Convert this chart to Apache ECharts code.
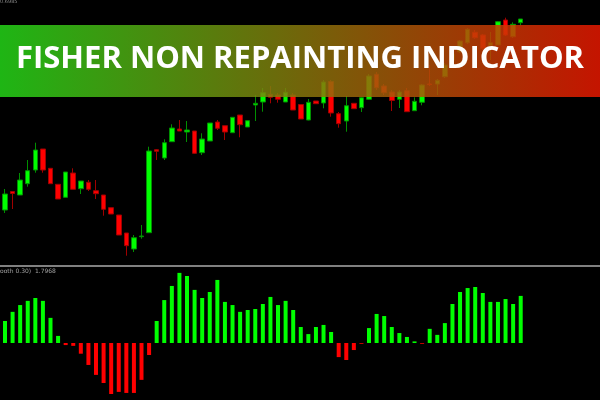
<!DOCTYPE html>
<html>
<head>
<meta charset="utf-8">
<script src="https://cdn.jsdelivr.net/npm/echarts@6/dist/echarts.min.js"></script>
<style>html,body{margin:0;padding:0;background:#000}#c{width:600px;height:400px}</style>
</head>
<body>
<div id="c"></div>
<script>
// price points (open, close, low, high)
var opens  = [55,73.5,70,81.3,95,116,96.7,80.7,67.7,92,76.3,82.7,74.3,70,57.3,50,32,16,28.3,32.3,115.3,107,123.3,136,133,134,112.3,124,143,139.3,132.3,150,138,160,163,170.7,170,163,170,160.5,145,164,162,183.5,151.3,144,161.7,157.3,165.7,190.7,179,173,165.7,174.3,154.3,162.7,181,181,188.3,205,213.3,222.3,232.7,230,219.3,220,245,228.3,242.3];
var closes = [71,71.5,85,94.3,115,95,81.3,66,93,75.7,84,75.7,71.3,55.7,51,30,19.3,27.3,29,114,113.7,122.3,137,134,135,111.7,126,142,136.7,133,147.7,140.3,144.3,161.7,172.3,167.7,165.7,172.7,155,146,162.7,161.3,183,152,141.3,159.3,156.3,167.3,189,177.3,172.3,164.5,173,153.3,163.7,180,180.5,184.7,200,211,224,235.7,227.3,216.7,222.3,243.3,230,240.7,246];
var lows   = [52,56,70,78.3,92.3,92.3,81,66,67.7,75.7,71,74,66,49.3,51,30,9.3,13,26.3,32.3,105,105,123.3,134,123,111,110,124,135,125,132.3,127.7,138,144,153.3,161.7,162.3,163,155,146,144.7,161,156.7,148.3,137.3,133.3,156,153,165,175,170,154,157,153,154,159.7,179,170,187,203,212,221,226,215,205,220,229,227,240];
var highs  = [76,74,92,105,122.3,116,97,81,93,96.7,84,85,85,70,57.3,50,32,30,40,118.3,116,125.7,140.7,145,144,134,131.7,142,145,139.3,147.7,150,144.3,170,177,179,172,177,172,161,166,164,185,185,153,169,162,168,191,193,181,175,175,177,167.7,181,200,186,202,213,225,237,235,231,233,244,247.3,242.7,246];
// Fisher histogram values
var fisher = [0.84,1.19,1.45,1.61,1.72,1.61,0.96,0.27,-0.08,-0.11,-0.41,-0.84,-1.22,-1.53,-1.95,-1.87,-1.91,-1.91,-1.41,-0.46,0.84,1.64,2.18,2.68,2.56,2.03,1.72,1.95,2.41,1.57,1.45,1.19,1.26,1.30,1.49,1.76,1.45,1.61,1.26,0.61,0.34,0.61,0.69,0.42,-0.54,-0.65,-0.27,-0.03,0.57,1.11,1.03,0.61,0.38,0.23,0.06,-0.03,0.54,0.31,0.76,1.49,1.95,2.10,2.14,1.91,1.57,1.57,1.68,1.49,1.80];
var title = 'FISHER NON REPAINTING INDICATOR';
var priceLabel = '0.6985';
var indLabel = 'ooth 0.30)  1.7968';

var cats = opens.map(function(_, i){ return String(i + 1); });
var candles = opens.map(function(o, i){ return [o, closes[i], lows[i], highs[i]]; });

var chart = echarts.init(document.getElementById('c'));
chart.setOption({
  backgroundColor: '#000000',
  animation: false,
  grid: [
    {left: 1.2, width: 523.3, top: 0, height: 265},
    {left: 1.2, width: 523.3, top: 270, height: 130}
  ],
  xAxis: [
    {type: 'category', gridIndex: 0, data: cats, show: false},
    {type: 'category', gridIndex: 1, data: cats, show: false}
  ],
  yAxis: [
    {type: 'value', gridIndex: 0, min: 0, max: 265, show: false},
    {type: 'value', gridIndex: 1, min: -2.18, max: 2.79, show: false}
  ],
  series: [
    {
      type: 'candlestick', xAxisIndex: 0, yAxisIndex: 0, data: candles, barWidth: 5,
      itemStyle: {color: '#00ff00', color0: '#ff0000', borderColor: '#009000', borderColor0: '#a00000', borderWidth: 1}
    },
    {
      type: 'bar', xAxisIndex: 1, yAxisIndex: 1, data: fisher, barWidth: 4,
      itemStyle: {color: function(p){ return p.value >= 0 ? '#00ff00' : '#ff0000'; }}
    }
  ],
  graphic: [
    {type: 'rect', z: 100, shape: {x: 0, y: 265, width: 600, height: 2}, style: {fill: '#808080'}},
    {type: 'text', z: 100, left: 0, top: -1, style: {text: priceLabel, fill: '#8a8a8a', font: '5px "DejaVu Sans"'}},
    {type: 'text', z: 100, left: 0, top: 268, style: {text: indLabel, fill: '#a0a0a0', font: '6px "DejaVu Sans"'}},
    {type: 'rect', z: 100, shape: {x: 0, y: 25, width: 600, height: 72},
      style: {opacity: 0.84, fill: new echarts.graphic.LinearGradient(0, 0, 1, 0, [
        {offset: 0, color: 'rgb(36,216,24)'}, {offset: 1, color: 'rgb(234,24,0)'}])}},
    {type: 'text', z: 101, x: 300, y: 59, style: {text: title, fill: '#ffffff', font: '700 31px "Open Sans"', align: 'center', verticalAlign: 'middle'}}
  ]
});
</script>
</body>
</html>
